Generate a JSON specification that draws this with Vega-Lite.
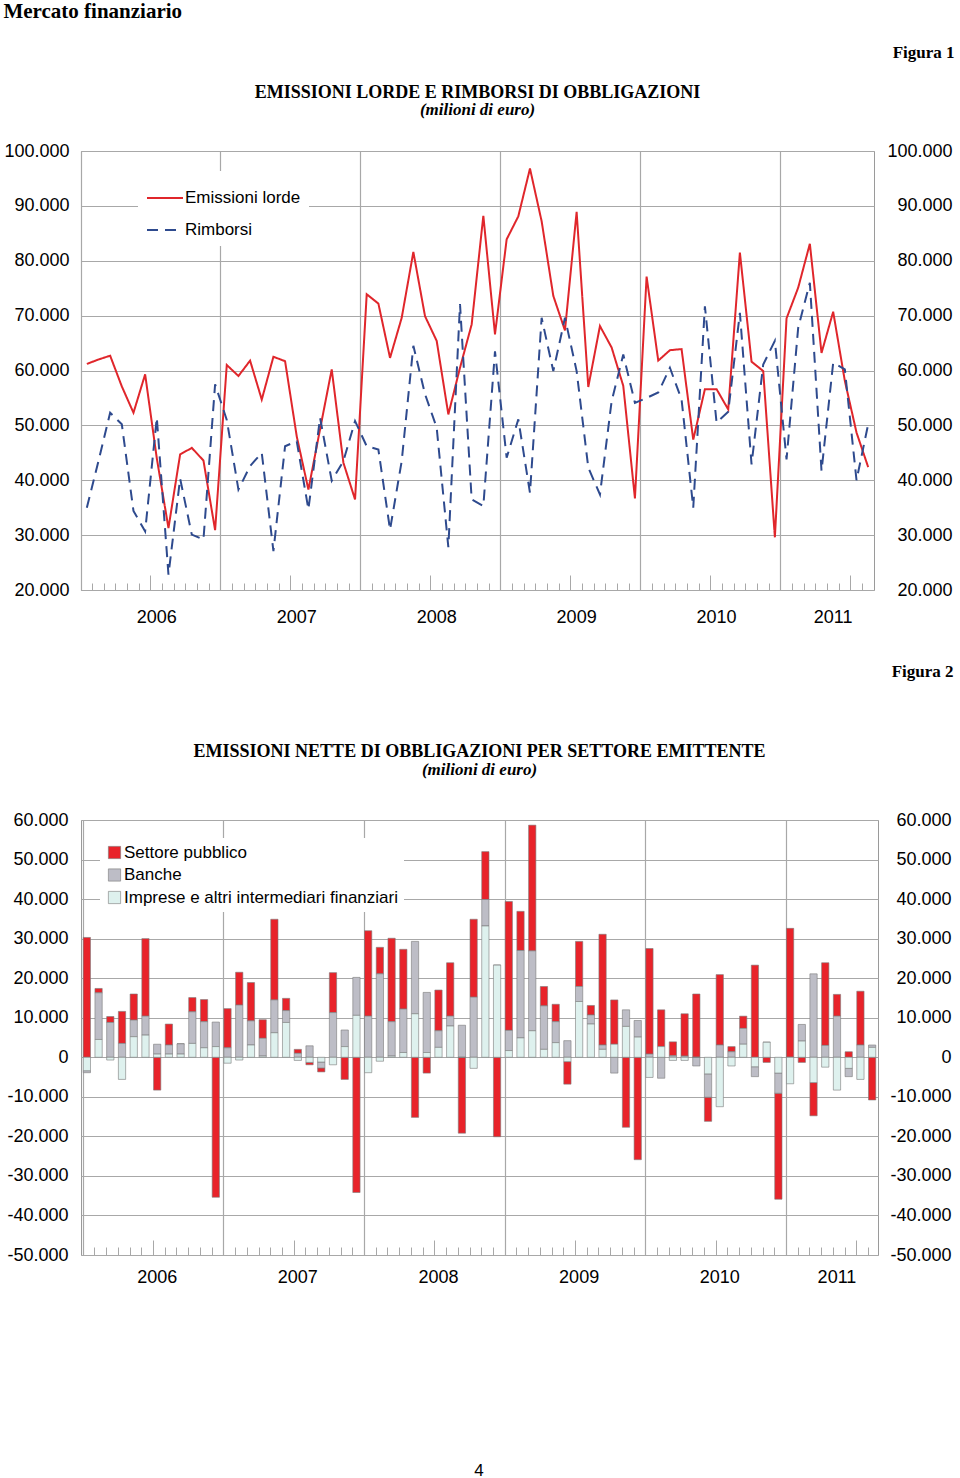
{
  "$schema": "https://vega.github.io/schema/vega-lite/v6.json",
  "background": "white",
  "padding": {"left": 3, "top": 0, "right": 3, "bottom": 0},
  "config": {
    "font": "Liberation Sans",
    "view": {"stroke": "#9a9a9a", "strokeWidth": 1},
    "axis": {"labelFont": "Liberation Sans", "labelFontSize": 18, "labelColor": "#000", "gridColor": "#a8a8a8", "gridWidth": 1.2, "tickColor": "#a8a8a8", "tickWidth": 1, "domain": false, "title": null},
    "title": {"font": "Liberation Serif", "fontSize": 18, "fontWeight": "bold", "color": "#000"}
  },
  "title": {"text": "4", "orient": "bottom", "anchor": "middle", "font": "Liberation Sans", "fontSize": 17, "fontWeight": "normal", "offset": 169},
  "resolve": {"scale": {"color": "independent", "strokeDash": "independent"}, "legend": {"color": "independent", "strokeDash": "independent"}},
  "vconcat": [
    {
      "title": {"text": "Mercato finanziario", "anchor": "start", "fontSize": 21, "offset": 22},
      "spacing": 27,
      "columns": 1,
      "align": "none",
      "resolve": {"scale": {"color": "independent", "strokeDash": "independent"}, "legend": {"color": "independent", "strokeDash": "independent"}},
      "concat": [
        {
          "title": {"text": "Figura 1", "anchor": "end", "fontSize": 17, "offset": 22, "dx": 2},
          "vconcat": [
            {
              "width": 793,
              "height": 439,
              "title": {"text": "EMISSIONI LORDE E RIMBORSI DI OBBLIGAZIONI", "subtitle": "(milioni di euro)", "anchor": "middle", "subtitleFont": "Liberation Serif", "subtitleFontSize": 17, "subtitleFontStyle": "italic", "subtitleFontWeight": "bold", "subtitleColor": "#000", "subtitlePadding": 0, "offset": 24},
              "data": {"values": [
                {"mese": "2006-01", "Emissioni lorde": 61200, "Rimborsi": 35000},
                {"mese": "2006-02", "Emissioni lorde": 62000, "Rimborsi": 43500},
                {"mese": "2006-03", "Emissioni lorde": 62700, "Rimborsi": 52300},
                {"mese": "2006-04", "Emissioni lorde": 57100, "Rimborsi": 50200},
                {"mese": "2006-05", "Emissioni lorde": 52300, "Rimborsi": 34400},
                {"mese": "2006-06", "Emissioni lorde": 59300, "Rimborsi": 30700},
                {"mese": "2006-07", "Emissioni lorde": 44000, "Rimborsi": 51400},
                {"mese": "2006-08", "Emissioni lorde": 31300, "Rimborsi": 22800},
                {"mese": "2006-09", "Emissioni lorde": 44700, "Rimborsi": 40300},
                {"mese": "2006-10", "Emissioni lorde": 45900, "Rimborsi": 30100},
                {"mese": "2006-11", "Emissioni lorde": 43600, "Rimborsi": 29200},
                {"mese": "2006-12", "Emissioni lorde": 30900, "Rimborsi": 57500},
                {"mese": "2007-01", "Emissioni lorde": 61000, "Rimborsi": 51000},
                {"mese": "2007-02", "Emissioni lorde": 59000, "Rimborsi": 38300},
                {"mese": "2007-03", "Emissioni lorde": 61800, "Rimborsi": 42600},
                {"mese": "2007-04", "Emissioni lorde": 54700, "Rimborsi": 45000},
                {"mese": "2007-05", "Emissioni lorde": 62500, "Rimborsi": 27100},
                {"mese": "2007-06", "Emissioni lorde": 61700, "Rimborsi": 46200},
                {"mese": "2007-07", "Emissioni lorde": 48000, "Rimborsi": 47100},
                {"mese": "2007-08", "Emissioni lorde": 38300, "Rimborsi": 34700},
                {"mese": "2007-09", "Emissioni lorde": 49300, "Rimborsi": 51400},
                {"mese": "2007-10", "Emissioni lorde": 60200, "Rimborsi": 39900},
                {"mese": "2007-11", "Emissioni lorde": 43200, "Rimborsi": 43500},
                {"mese": "2007-12", "Emissioni lorde": 36500, "Rimborsi": 50800},
                {"mese": "2008-01", "Emissioni lorde": 73900, "Rimborsi": 46200},
                {"mese": "2008-02", "Emissioni lorde": 72200, "Rimborsi": 45600},
                {"mese": "2008-03", "Emissioni lorde": 62300, "Rimborsi": 31000},
                {"mese": "2008-04", "Emissioni lorde": 69600, "Rimborsi": 43500},
                {"mese": "2008-05", "Emissioni lorde": 81600, "Rimborsi": 64500},
                {"mese": "2008-06", "Emissioni lorde": 69900, "Rimborsi": 55700},
                {"mese": "2008-07", "Emissioni lorde": 65400, "Rimborsi": 49600},
                {"mese": "2008-08", "Emissioni lorde": 52000, "Rimborsi": 27800},
                {"mese": "2008-09", "Emissioni lorde": 60500, "Rimborsi": 72100},
                {"mese": "2008-10", "Emissioni lorde": 68400, "Rimborsi": 36500},
                {"mese": "2008-11", "Emissioni lorde": 88200, "Rimborsi": 35300},
                {"mese": "2008-12", "Emissioni lorde": 66600, "Rimborsi": 63500},
                {"mese": "2009-01", "Emissioni lorde": 83900, "Rimborsi": 44100},
                {"mese": "2009-02", "Emissioni lorde": 88100, "Rimborsi": 51100},
                {"mese": "2009-03", "Emissioni lorde": 96800, "Rimborsi": 37700},
                {"mese": "2009-04", "Emissioni lorde": 87200, "Rimborsi": 69600},
                {"mese": "2009-05", "Emissioni lorde": 73600, "Rimborsi": 59900},
                {"mese": "2009-06", "Emissioni lorde": 67300, "Rimborsi": 69600},
                {"mese": "2009-07", "Emissioni lorde": 88900, "Rimborsi": 59900},
                {"mese": "2009-08", "Emissioni lorde": 57000, "Rimborsi": 42300},
                {"mese": "2009-09", "Emissioni lorde": 68100, "Rimborsi": 37400},
                {"mese": "2009-10", "Emissioni lorde": 64200, "Rimborsi": 54400},
                {"mese": "2009-11", "Emissioni lorde": 57200, "Rimborsi": 62900},
                {"mese": "2009-12", "Emissioni lorde": 36700, "Rimborsi": 54100},
                {"mese": "2010-01", "Emissioni lorde": 77100, "Rimborsi": 55000},
                {"mese": "2010-02", "Emissioni lorde": 61800, "Rimborsi": 56000},
                {"mese": "2010-03", "Emissioni lorde": 63700, "Rimborsi": 60500},
                {"mese": "2010-04", "Emissioni lorde": 63900, "Rimborsi": 54700},
                {"mese": "2010-05", "Emissioni lorde": 47400, "Rimborsi": 35000},
                {"mese": "2010-06", "Emissioni lorde": 56600, "Rimborsi": 71700},
                {"mese": "2010-07", "Emissioni lorde": 56600, "Rimborsi": 50500},
                {"mese": "2010-08", "Emissioni lorde": 52900, "Rimborsi": 52500},
                {"mese": "2010-09", "Emissioni lorde": 81500, "Rimborsi": 70500},
                {"mese": "2010-10", "Emissioni lorde": 61600, "Rimborsi": 42900},
                {"mese": "2010-11", "Emissioni lorde": 59900, "Rimborsi": 61100},
                {"mese": "2010-12", "Emissioni lorde": 29600, "Rimborsi": 65400},
                {"mese": "2011-01", "Emissioni lorde": 69500, "Rimborsi": 43800},
                {"mese": "2011-02", "Emissioni lorde": 75100, "Rimborsi": 67800},
                {"mese": "2011-03", "Emissioni lorde": 83100, "Rimborsi": 76000},
                {"mese": "2011-04", "Emissioni lorde": 63200, "Rimborsi": 41700},
                {"mese": "2011-05", "Emissioni lorde": 70700, "Rimborsi": 61400},
                {"mese": "2011-06", "Emissioni lorde": 58100, "Rimborsi": 60200},
                {"mese": "2011-07", "Emissioni lorde": 48700, "Rimborsi": 40000},
                {"mese": "2011-08", "Emissioni lorde": 42400, "Rimborsi": 50200}
              ]},
              "transform": [{"fold": ["Emissioni lorde", "Rimborsi"], "as": ["serie", "valore"]}],
              "layer": [
                {
                  "mark": {"type": "line", "strokeWidth": 2},
                  "encoding": {
                    "x": {"field": "mese", "type": "ordinal", "bandPosition": 0.5,
                      "scale": {"type": "band", "paddingInner": 0, "paddingOuter": 0},
                      "axis": {"bandPosition": 0, "grid": true, "labelAngle": 0, "labelOverlap": false,
                        "gridOpacity": {"condition": {"test": "slice(datum.value, 5) == '01'", "value": 1}, "value": 0},
                        "tickSize": {"condition": {"test": "slice(datum.value, 5) == '01' || slice(datum.value, 5) == '07'", "value": -15}, "value": -7},
                        "labelPadding": {"condition": {"test": "datum.value == '2011-05'", "value": 25}, "value": 33},
                        "labelExpr": "(slice(datum.value, 5) == '07' && datum.value < '2011') || datum.value == '2011-05' ? slice(datum.value, 0, 4) : ''"}},
                    "y": {"field": "valore", "type": "quantitative",
                      "scale": {"domain": [20000, 100000], "nice": false},
                      "axis": {"orient": "left", "values": [20000, 30000, 40000, 50000, 60000, 70000, 80000, 90000, 100000], "grid": true, "tickSize": 0, "labelPadding": 12,
                        "labelExpr": "datum.value == 0 ? '0' : (datum.value < 0 ? '-' : '') + replace(format(abs(datum.value), ','), ',', '.')"}},
                    "color": {"field": "serie", "type": "nominal",
                      "scale": {"domain": ["Emissioni lorde", "Rimborsi"], "range": ["#e0262b", "#2e4a8e"]},
                      "legend": {"title": null, "orient": "none", "legendX": 57, "legendY": 20, "fillColor": "white", "padding": 8, "symbolType": "stroke", "symbolSize": 1296, "symbolStrokeWidth": 2, "labelFontSize": 17, "labelFont": "Liberation Sans", "labelColor": "#000", "rowPadding": 5, "labelOffset": 1}},
                    "strokeDash": {"field": "serie", "type": "nominal",
                      "scale": {"domain": ["Emissioni lorde", "Rimborsi"], "range": [[1, 0], [11, 7]]},
                      "legend": {"title": null, "orient": "none", "legendX": 57, "legendY": 20, "fillColor": "white", "padding": 8, "symbolType": "stroke", "symbolSize": 1296, "symbolStrokeWidth": 2, "labelFontSize": 17, "labelFont": "Liberation Sans", "labelColor": "#000", "rowPadding": 5, "labelOffset": 1}}
                  }
                },
                {
                  "mark": {"type": "rule", "opacity": 0},
                  "encoding": {
                    "y": {"field": "valore", "type": "quantitative",
                      "axis": {"orient": "right", "values": [20000, 30000, 40000, 50000, 60000, 70000, 80000, 90000, 100000], "grid": false, "tickSize": 0, "labelAlign": "right", "labelPadding": 78,
                        "labelExpr": "datum.value == 0 ? '0' : (datum.value < 0 ? '-' : '') + replace(format(abs(datum.value), ','), ',', '.')"}}
                  }
                }
              ],
              "resolve": {"axis": {"y": "independent"}}
            }
          ]
        },
        {
          "title": {"text": "Figura 2", "anchor": "end", "fontSize": 17, "offset": 62, "dx": 2},
          "vconcat": [
            {
              "width": 797,
              "height": 435,
              "title": {"text": "EMISSIONI NETTE DI OBBLIGAZIONI PER SETTORE EMITTENTE", "subtitle": "(milioni di euro)", "anchor": "middle", "subtitleFont": "Liberation Serif", "subtitleFontSize": 17, "subtitleFontStyle": "italic", "subtitleFontWeight": "bold", "subtitleColor": "#000", "subtitlePadding": 1, "offset": 33},
              "data": {"values": [
                {"mese": "2006-01", "Settore pubblico": 30300, "Banche": -500, "Imprese e altri intermediari finanziari": -3400},
                {"mese": "2006-02", "Settore pubblico": 1100, "Banche": 11800, "Imprese e altri intermediari finanziari": 4500},
                {"mese": "2006-03", "Settore pubblico": 1500, "Banche": 8800, "Imprese e altri intermediari finanziari": -700},
                {"mese": "2006-04", "Settore pubblico": 8100, "Banche": 3500, "Imprese e altri intermediari finanziari": -5600},
                {"mese": "2006-05", "Settore pubblico": 6600, "Banche": 4200, "Imprese e altri intermediari finanziari": 5200},
                {"mese": "2006-06", "Settore pubblico": 19600, "Banche": 4800, "Imprese e altri intermediari finanziari": 5600},
                {"mese": "2006-07", "Settore pubblico": -8300, "Banche": 2500, "Imprese e altri intermediari finanziari": 800},
                {"mese": "2006-08", "Settore pubblico": 5300, "Banche": 2300, "Imprese e altri intermediari finanziari": 800},
                {"mese": "2006-09", "Settore pubblico": 0, "Banche": 2600, "Imprese e altri intermediari finanziari": 800},
                {"mese": "2006-10", "Settore pubblico": 3600, "Banche": 8000, "Imprese e altri intermediari finanziari": 3500},
                {"mese": "2006-11", "Settore pubblico": 5600, "Banche": 6600, "Imprese e altri intermediari finanziari": 2400},
                {"mese": "2006-12", "Settore pubblico": -35400, "Banche": 6200, "Imprese e altri intermediari finanziari": 2700},
                {"mese": "2007-01", "Settore pubblico": 9900, "Banche": 2400, "Imprese e altri intermediari finanziari": -1500},
                {"mese": "2007-02", "Settore pubblico": 8300, "Banche": 13200, "Imprese e altri intermediari finanziari": -700},
                {"mese": "2007-03", "Settore pubblico": 9700, "Banche": 6100, "Imprese e altri intermediari finanziari": 3100},
                {"mese": "2007-04", "Settore pubblico": 4700, "Banche": 4500, "Imprese e altri intermediari finanziari": 300},
                {"mese": "2007-05", "Settore pubblico": 20400, "Banche": 8300, "Imprese e altri intermediari finanziari": 6200},
                {"mese": "2007-06", "Settore pubblico": 3100, "Banche": 3000, "Imprese e altri intermediari finanziari": 8800},
                {"mese": "2007-07", "Settore pubblico": 1000, "Banche": 1000, "Imprese e altri intermediari finanziari": -800},
                {"mese": "2007-08", "Settore pubblico": -600, "Banche": 2900, "Imprese e altri intermediari finanziari": -1300},
                {"mese": "2007-09", "Settore pubblico": -1000, "Banche": -1500, "Imprese e altri intermediari finanziari": -1200},
                {"mese": "2007-10", "Settore pubblico": 10100, "Banche": 11300, "Imprese e altri intermediari finanziari": -1900},
                {"mese": "2007-11", "Settore pubblico": -5600, "Banche": 4200, "Imprese e altri intermediari finanziari": 2700},
                {"mese": "2007-12", "Settore pubblico": -34200, "Banche": 9600, "Imprese e altri intermediari finanziari": 10600},
                {"mese": "2008-01", "Settore pubblico": 21600, "Banche": 10400, "Imprese e altri intermediari finanziari": -3900},
                {"mese": "2008-02", "Settore pubblico": 6700, "Banche": 21100, "Imprese e altri intermediari finanziari": -1000},
                {"mese": "2008-03", "Settore pubblico": 21100, "Banche": 8700, "Imprese e altri intermediari finanziari": 300},
                {"mese": "2008-04", "Settore pubblico": 15100, "Banche": 11000, "Imprese e altri intermediari finanziari": 1200},
                {"mese": "2008-05", "Settore pubblico": -15200, "Banche": 18300, "Imprese e altri intermediari finanziari": 11000},
                {"mese": "2008-06", "Settore pubblico": -4000, "Banche": 15200, "Imprese e altri intermediari finanziari": 1200},
                {"mese": "2008-07", "Settore pubblico": 10300, "Banche": 4200, "Imprese e altri intermediari finanziari": 2500},
                {"mese": "2008-08", "Settore pubblico": 13500, "Banche": 2500, "Imprese e altri intermediari finanziari": 7900},
                {"mese": "2008-09", "Settore pubblico": -19200, "Banche": 8100, "Imprese e altri intermediari finanziari": 0},
                {"mese": "2008-10", "Settore pubblico": 19700, "Banche": 15200, "Imprese e altri intermediari finanziari": -2800},
                {"mese": "2008-11", "Settore pubblico": 12100, "Banche": 6700, "Imprese e altri intermediari finanziari": 33200},
                {"mese": "2008-12", "Settore pubblico": -20100, "Banche": 0, "Imprese e altri intermediari finanziari": 23300},
                {"mese": "2009-01", "Settore pubblico": 32600, "Banche": 5100, "Imprese e altri intermediari finanziari": 1700},
                {"mese": "2009-02", "Settore pubblico": 9900, "Banche": 22100, "Imprese e altri intermediari finanziari": 4900},
                {"mese": "2009-03", "Settore pubblico": 31800, "Banche": 20200, "Imprese e altri intermediari finanziari": 6700},
                {"mese": "2009-04", "Settore pubblico": 4900, "Banche": 11000, "Imprese e altri intermediari finanziari": 2000},
                {"mese": "2009-05", "Settore pubblico": 4400, "Banche": 5300, "Imprese e altri intermediari finanziari": 3700},
                {"mese": "2009-06", "Settore pubblico": -5700, "Banche": 4200, "Imprese e altri intermediari finanziari": -1100},
                {"mese": "2009-07", "Settore pubblico": 11400, "Banche": 3800, "Imprese e altri intermediari finanziari": 14100},
                {"mese": "2009-08", "Settore pubblico": 2400, "Banche": 2300, "Imprese e altri intermediari finanziari": 8400},
                {"mese": "2009-09", "Settore pubblico": 28000, "Banche": 1100, "Imprese e altri intermediari finanziari": 2000},
                {"mese": "2009-10", "Settore pubblico": 11200, "Banche": -4000, "Imprese e altri intermediari finanziari": 3300},
                {"mese": "2009-11", "Settore pubblico": -17700, "Banche": 4200, "Imprese e altri intermediari finanziari": 7800},
                {"mese": "2009-12", "Settore pubblico": -25900, "Banche": 4200, "Imprese e altri intermediari finanziari": 5100},
                {"mese": "2010-01", "Settore pubblico": 26700, "Banche": 800, "Imprese e altri intermediari finanziari": -5100},
                {"mese": "2010-02", "Settore pubblico": 9300, "Banche": -5300, "Imprese e altri intermediari finanziari": 2700},
                {"mese": "2010-03", "Settore pubblico": 3500, "Banche": 400, "Imprese e altri intermediari finanziari": -800},
                {"mese": "2010-04", "Settore pubblico": 10700, "Banche": 300, "Imprese e altri intermediari finanziari": -800},
                {"mese": "2010-05", "Settore pubblico": 16000, "Banche": -2200, "Imprese e altri intermediari finanziari": 0},
                {"mese": "2010-06", "Settore pubblico": -6100, "Banche": -5900, "Imprese e altri intermediari finanziari": -4200},
                {"mese": "2010-07", "Settore pubblico": 17800, "Banche": 3100, "Imprese e altri intermediari finanziari": -12500},
                {"mese": "2010-08", "Settore pubblico": 1300, "Banche": 1400, "Imprese e altri intermediari finanziari": -2200},
                {"mese": "2010-09", "Settore pubblico": 3100, "Banche": 4000, "Imprese e altri intermediari finanziari": 3300},
                {"mese": "2010-10", "Settore pubblico": 23300, "Banche": -2500, "Imprese e altri intermediari finanziari": -2400},
                {"mese": "2010-11", "Settore pubblico": -1300, "Banche": 0, "Imprese e altri intermediari finanziari": 3800},
                {"mese": "2010-12", "Settore pubblico": -26800, "Banche": -5100, "Imprese e altri intermediari finanziari": -4000},
                {"mese": "2011-01", "Settore pubblico": 32600, "Banche": 0, "Imprese e altri intermediari finanziari": -6700},
                {"mese": "2011-02", "Settore pubblico": -1300, "Banche": 4200, "Imprese e altri intermediari finanziari": 4100},
                {"mese": "2011-03", "Settore pubblico": -8400, "Banche": 21100, "Imprese e altri intermediari finanziari": -6400},
                {"mese": "2011-04", "Settore pubblico": 20900, "Banche": 3000, "Imprese e altri intermediari finanziari": -2500},
                {"mese": "2011-05", "Settore pubblico": 5500, "Banche": 10400, "Imprese e altri intermediari finanziari": -8300},
                {"mese": "2011-06", "Settore pubblico": 1400, "Banche": -2100, "Imprese e altri intermediari finanziari": -2800},
                {"mese": "2011-07", "Settore pubblico": 13600, "Banche": 3100, "Imprese e altri intermediari finanziari": -5600},
                {"mese": "2011-08", "Settore pubblico": -10800, "Banche": 600, "Imprese e altri intermediari finanziari": 2500}
              ]},
              "transform": [
                {"fold": ["Settore pubblico", "Banche", "Imprese e altri intermediari finanziari"], "as": ["serie", "valore"]},
                {"lookup": "serie", "from": {"data": {"values": [
                  {"serie": "Imprese e altri intermediari finanziari", "ordine": 1},
                  {"serie": "Banche", "ordine": 2},
                  {"serie": "Settore pubblico", "ordine": 3}
                ]}, "key": "serie", "fields": ["ordine"]}}
              ],
              "layer": [
                {
                  "mark": {"type": "bar", "stroke": "#7a7a7a", "strokeWidth": 0.6},
                  "encoding": {
                    "x": {"field": "mese", "type": "ordinal",
                      "scale": {"type": "band", "paddingInner": 0.38, "paddingOuter": 0.19},
                      "axis": {"bandPosition": 0, "grid": true, "labelAngle": 0, "labelOverlap": false,
                        "gridOpacity": {"condition": {"test": "slice(datum.value, 5) == '01'", "value": 1}, "value": 0},
                        "tickSize": {"condition": {"test": "slice(datum.value, 5) == '01' || slice(datum.value, 5) == '07'", "value": -15}, "value": -8},
                        "labelPadding": {"condition": {"test": "datum.value == '2011-05'", "value": 21}, "value": 28},
                        "labelExpr": "(slice(datum.value, 5) == '07' && datum.value < '2011') || datum.value == '2011-05' ? slice(datum.value, 0, 4) : ''"}},
                    "y": {"field": "valore", "type": "quantitative", "stack": "zero",
                      "scale": {"domain": [-50000, 60000], "nice": false},
                      "axis": {"orient": "left", "values": [-50000, -40000, -30000, -20000, -10000, 0, 10000, 20000, 30000, 40000, 50000, 60000], "grid": true, "tickSize": 0, "labelPadding": 13,
                        "labelExpr": "datum.value == 0 ? '0' : (datum.value < 0 ? '-' : '') + replace(format(abs(datum.value), ','), ',', '.')"}},
                    "color": {"field": "serie", "type": "nominal",
                      "scale": {"domain": ["Settore pubblico", "Banche", "Imprese e altri intermediari finanziari"], "range": ["#e8232a", "#bdbdc6", "#def1ee"]},
                      "legend": {"title": null, "orient": "none", "legendX": 19, "legendY": 18, "fillColor": "white", "padding": 6, "symbolType": "square", "symbolSize": 150, "symbolStrokeWidth": 0.6, "symbolStrokeColor": "#7a7a7a", "labelFontSize": 17, "labelFont": "Liberation Sans", "labelColor": "#000", "rowPadding": 4.5, "labelOffset": 1, "labelLimit": 400}},
                    "order": {"field": "ordine", "type": "quantitative"}
                  }
                },
                {
                  "mark": {"type": "rule", "opacity": 0},
                  "encoding": {
                    "y": {"field": "valore", "type": "quantitative",
                      "axis": {"orient": "right", "values": [-50000, -40000, -30000, -20000, -10000, 0, 10000, 20000, 30000, 40000, 50000, 60000], "grid": false, "tickSize": 0, "labelAlign": "right", "labelPadding": 73,
                        "labelExpr": "datum.value == 0 ? '0' : (datum.value < 0 ? '-' : '') + replace(format(abs(datum.value), ','), ',', '.')"}}
                  }
                }
              ],
              "resolve": {"axis": {"y": "independent"}}
            }
          ]
        }
      ]
    }
  ]
}
